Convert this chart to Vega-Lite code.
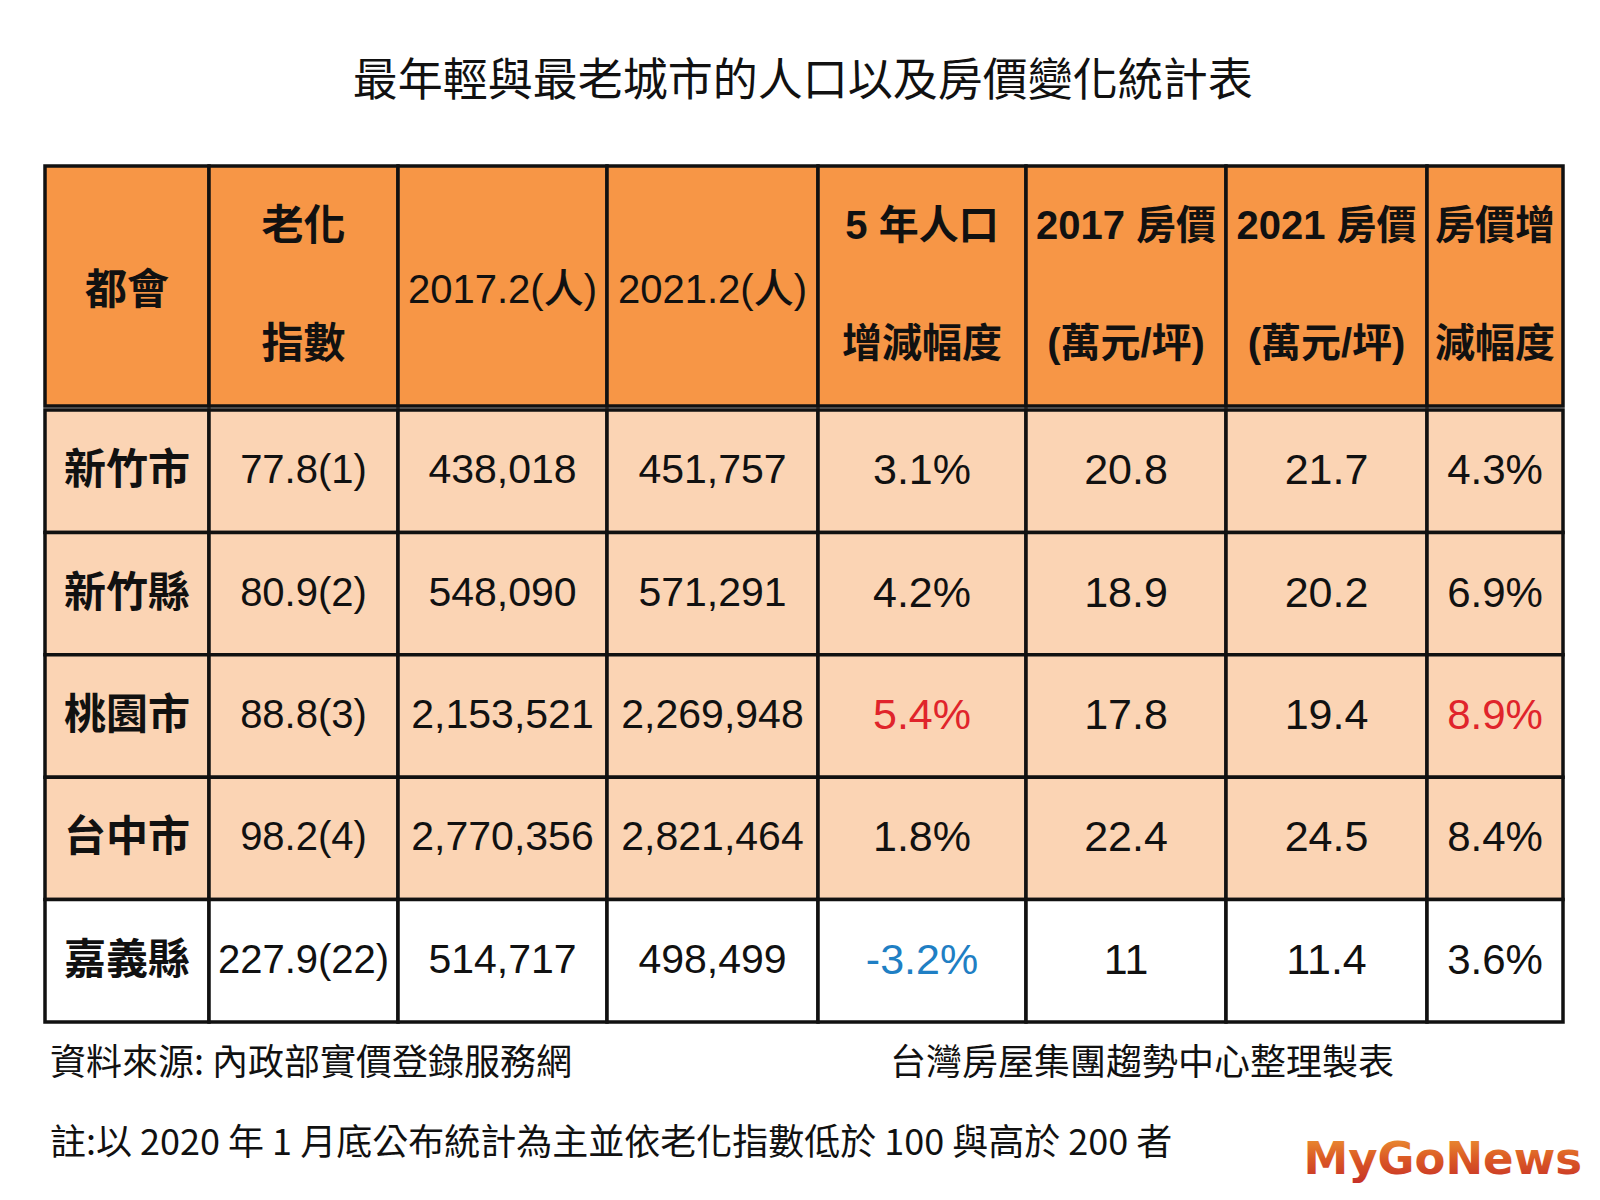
{
  "$schema": "https://vega.github.io/schema/vega-lite/v6.json",
  "padding": {"left": 43, "top": 60, "right": 0, "bottom": 0},
  "background": "#ffffff",
  "title": {"text": "最年輕與最老城市的人口以及房價變化統計表", "font": "Noto Sans CJK TC", "fontSize": 45, "fontWeight": "normal", "color": "#111111", "anchor": "middle", "offset": 59, "dx": -10},
  "datasets": {
    "rows": [
      {"city": "新竹市", "aging": "77.8(1)", "pop2017": 438018, "pop2021": 451757, "popChange": 0.031, "price2017": 20.8, "price2021": 21.7, "priceChange": 0.043},
      {"city": "新竹縣", "aging": "80.9(2)", "pop2017": 548090, "pop2021": 571291, "popChange": 0.042, "price2017": 18.9, "price2021": 20.2, "priceChange": 0.069},
      {"city": "桃園市", "aging": "88.8(3)", "pop2017": 2153521, "pop2021": 2269948, "popChange": 0.054, "price2017": 17.8, "price2021": 19.4, "priceChange": 0.089},
      {"city": "台中市", "aging": "98.2(4)", "pop2017": 2770356, "pop2021": 2821464, "popChange": 0.018, "price2017": 22.4, "price2021": 24.5, "priceChange": 0.084},
      {"city": "嘉義縣", "aging": "227.9(22)", "pop2017": 514717, "pop2021": 498499, "popChange": -0.032, "price2017": 11, "price2021": 11.4, "priceChange": 0.036}
    ],
    "header": [
      {"key": "city", "label": "都會"},
      {"key": "aging", "label": "老化\n指數"},
      {"key": "pop2017", "label": "2017.2(人)"},
      {"key": "pop2021", "label": "2021.2(人)"},
      {"key": "popChange", "label": "5 年人口\n增減幅度"},
      {"key": "price2017", "label": "2017 房價\n(萬元/坪)"},
      {"key": "price2021", "label": "2021 房價\n(萬元/坪)"},
      {"key": "priceChange", "label": "房價增\n減幅度"}
    ],
    "notes": [
      {"part": "source", "line": "1", "text": "資料來源: 內政部實價登錄服務網"},
      {"part": "note", "line": "2", "text": "註:以 2020 年 1 月底公布統計為主並依老化指數低於 100 與高於 200 者"},
      {"part": "maker", "line": "1", "text": "台灣房屋集團趨勢中心整理製表"},
      {"part": "logo", "line": "2", "text": "MyGoNews"}
    ]
  },
  "config": {
    "view": {"stroke": null},
    "locale": {"number": {"decimal": ".", "thousands": ",", "grouping": [3], "currency": ["$", ""], "minus": "-"}}
  },
  "spacing": 0,
  "vconcat": [
    {
      "spacing": 0,
      "bounds": "flush",
      "hconcat": [
        {"width": 164, "height": 240, "data": {"name": "header"}, "transform": [{"filter": "datum.key === 'city'"}],
         "layer": [
          {"mark": {"type": "rect", "fill": "#F79646", "stroke": "#111111", "strokeWidth": 3.5}, "encoding": {}},
          {"mark": {"type": "text", "font": "Liberation Sans, Noto Sans CJK TC", "fontSize": 42, "fontWeight": "bold", "lineBreak": "\n", "lineHeight": 118, "dy": 5, "color": "#111111"}, "encoding": {"text": {"field": "label", "type": "nominal"}}}
         ]},
        {"width": 189, "height": 240, "data": {"name": "header"}, "transform": [{"filter": "datum.key === 'aging'"}],
         "layer": [
          {"mark": {"type": "rect", "fill": "#F79646", "stroke": "#111111", "strokeWidth": 3.5}, "encoding": {}},
          {"mark": {"type": "text", "font": "Liberation Sans, Noto Sans CJK TC", "fontSize": 42, "fontWeight": "bold", "lineBreak": "\n", "lineHeight": 118, "dy": -59, "color": "#111111"}, "encoding": {"text": {"field": "label", "type": "nominal"}}}
         ]},
        {"width": 209, "height": 240, "data": {"name": "header"}, "transform": [{"filter": "datum.key === 'pop2017'"}],
         "layer": [
          {"mark": {"type": "rect", "fill": "#F79646", "stroke": "#111111", "strokeWidth": 3.5}, "encoding": {}},
          {"mark": {"type": "text", "font": "Liberation Sans, Noto Sans CJK TC", "fontSize": 40, "fontWeight": 500, "lineBreak": "\n", "lineHeight": 118, "dy": 5, "color": "#111111"}, "encoding": {"text": {"field": "label", "type": "nominal"}}}
         ]},
        {"width": 211, "height": 240, "data": {"name": "header"}, "transform": [{"filter": "datum.key === 'pop2021'"}],
         "layer": [
          {"mark": {"type": "rect", "fill": "#F79646", "stroke": "#111111", "strokeWidth": 3.5}, "encoding": {}},
          {"mark": {"type": "text", "font": "Liberation Sans, Noto Sans CJK TC", "fontSize": 40, "fontWeight": 500, "lineBreak": "\n", "lineHeight": 118, "dy": 5, "color": "#111111"}, "encoding": {"text": {"field": "label", "type": "nominal"}}}
         ]},
        {"width": 208, "height": 240, "data": {"name": "header"}, "transform": [{"filter": "datum.key === 'popChange'"}],
         "layer": [
          {"mark": {"type": "rect", "fill": "#F79646", "stroke": "#111111", "strokeWidth": 3.5}, "encoding": {}},
          {"mark": {"type": "text", "font": "Liberation Sans, Noto Sans CJK TC", "fontSize": 40, "fontWeight": "bold", "lineBreak": "\n", "lineHeight": 118, "dy": -59, "color": "#111111"}, "encoding": {"text": {"field": "label", "type": "nominal"}}}
         ]},
        {"width": 200, "height": 240, "data": {"name": "header"}, "transform": [{"filter": "datum.key === 'price2017'"}],
         "layer": [
          {"mark": {"type": "rect", "fill": "#F79646", "stroke": "#111111", "strokeWidth": 3.5}, "encoding": {}},
          {"mark": {"type": "text", "font": "Liberation Sans, Noto Sans CJK TC", "fontSize": 40, "fontWeight": "bold", "lineBreak": "\n", "lineHeight": 118, "dy": -59, "color": "#111111"}, "encoding": {"text": {"field": "label", "type": "nominal"}}}
         ]},
        {"width": 201, "height": 240, "data": {"name": "header"}, "transform": [{"filter": "datum.key === 'price2021'"}],
         "layer": [
          {"mark": {"type": "rect", "fill": "#F79646", "stroke": "#111111", "strokeWidth": 3.5}, "encoding": {}},
          {"mark": {"type": "text", "font": "Liberation Sans, Noto Sans CJK TC", "fontSize": 40, "fontWeight": "bold", "lineBreak": "\n", "lineHeight": 118, "dy": -59, "color": "#111111"}, "encoding": {"text": {"field": "label", "type": "nominal"}}}
         ]},
        {"width": 136, "height": 240, "data": {"name": "header"}, "transform": [{"filter": "datum.key === 'priceChange'"}],
         "layer": [
          {"mark": {"type": "rect", "fill": "#F79646", "stroke": "#111111", "strokeWidth": 3.5}, "encoding": {}},
          {"mark": {"type": "text", "font": "Liberation Sans, Noto Sans CJK TC", "fontSize": 40, "fontWeight": "bold", "lineBreak": "\n", "lineHeight": 118, "dy": -59, "color": "#111111"}, "encoding": {"text": {"field": "label", "type": "nominal"}}}
         ]}
      ]
    },
    {
      "spacing": 0,
      "bounds": "flush",
      "hconcat": [
        {"width": 164, "height": 612, "data": {"name": "rows"},
         "encoding": {"y": {"field": "city", "type": "nominal", "sort": null, "axis": null, "scale": {"paddingInner": 0, "paddingOuter": 0}}},
         "layer": [
          {"mark": {"type": "rect", "stroke": "#111111", "strokeWidth": 3.5}, "encoding": {"fill": {"condition": {"test": "datum.city === '嘉義縣'", "value": "#ffffff"}, "value": "#FBD4B4"}}},
          {"mark": {"type": "text", "font": "Noto Sans CJK TC", "fontSize": 42, "fontWeight": "bold", "color": "#111111"}, "encoding": {"text": {"field": "city", "type": "nominal"}}}
         ]},
        {"width": 189, "height": 612, "data": {"name": "rows"},
         "encoding": {"y": {"field": "city", "type": "nominal", "sort": null, "axis": null, "scale": {"paddingInner": 0, "paddingOuter": 0}}},
         "layer": [
          {"mark": {"type": "rect", "stroke": "#111111", "strokeWidth": 3.5}, "encoding": {"fill": {"condition": {"test": "datum.city === '嘉義縣'", "value": "#ffffff"}, "value": "#FBD4B4"}}},
          {"mark": {"type": "text", "font": "Liberation Sans", "fontSize": 40, "color": "#111111"}, "encoding": {"text": {"field": "aging", "type": "nominal"}}}
         ]},
        {"width": 209, "height": 612, "data": {"name": "rows"},
         "encoding": {"y": {"field": "city", "type": "nominal", "sort": null, "axis": null, "scale": {"paddingInner": 0, "paddingOuter": 0}}},
         "layer": [
          {"mark": {"type": "rect", "stroke": "#111111", "strokeWidth": 3.5}, "encoding": {"fill": {"condition": {"test": "datum.city === '嘉義縣'", "value": "#ffffff"}, "value": "#FBD4B4"}}},
          {"mark": {"type": "text", "font": "Liberation Sans", "fontSize": 41, "color": "#111111"}, "encoding": {"text": {"field": "pop2017", "type": "quantitative", "format": ","}}}
         ]},
        {"width": 211, "height": 612, "data": {"name": "rows"},
         "encoding": {"y": {"field": "city", "type": "nominal", "sort": null, "axis": null, "scale": {"paddingInner": 0, "paddingOuter": 0}}},
         "layer": [
          {"mark": {"type": "rect", "stroke": "#111111", "strokeWidth": 3.5}, "encoding": {"fill": {"condition": {"test": "datum.city === '嘉義縣'", "value": "#ffffff"}, "value": "#FBD4B4"}}},
          {"mark": {"type": "text", "font": "Liberation Sans", "fontSize": 41, "color": "#111111"}, "encoding": {"text": {"field": "pop2021", "type": "quantitative", "format": ","}}}
         ]},
        {"width": 208, "height": 612, "data": {"name": "rows"},
         "encoding": {"y": {"field": "city", "type": "nominal", "sort": null, "axis": null, "scale": {"paddingInner": 0, "paddingOuter": 0}}},
         "layer": [
          {"mark": {"type": "rect", "stroke": "#111111", "strokeWidth": 3.5}, "encoding": {"fill": {"condition": {"test": "datum.city === '嘉義縣'", "value": "#ffffff"}, "value": "#FBD4B4"}}},
          {"mark": {"type": "text", "font": "Liberation Sans", "fontSize": 43}, "encoding": {
            "text": {"field": "popChange", "type": "quantitative", "format": ".1%"},
            "color": {"condition": [{"test": "datum.popChange < 0", "value": "#1F7FC4"}, {"test": "datum.popChange >= 0.05", "value": "#E0242B"}], "value": "#111111"}}}
         ]},
        {"width": 200, "height": 612, "data": {"name": "rows"},
         "encoding": {"y": {"field": "city", "type": "nominal", "sort": null, "axis": null, "scale": {"paddingInner": 0, "paddingOuter": 0}}},
         "layer": [
          {"mark": {"type": "rect", "stroke": "#111111", "strokeWidth": 3.5}, "encoding": {"fill": {"condition": {"test": "datum.city === '嘉義縣'", "value": "#ffffff"}, "value": "#FBD4B4"}}},
          {"mark": {"type": "text", "font": "Liberation Sans", "fontSize": 43, "color": "#111111"}, "encoding": {"text": {"field": "price2017", "type": "quantitative"}}}
         ]},
        {"width": 201, "height": 612, "data": {"name": "rows"},
         "encoding": {"y": {"field": "city", "type": "nominal", "sort": null, "axis": null, "scale": {"paddingInner": 0, "paddingOuter": 0}}},
         "layer": [
          {"mark": {"type": "rect", "stroke": "#111111", "strokeWidth": 3.5}, "encoding": {"fill": {"condition": {"test": "datum.city === '嘉義縣'", "value": "#ffffff"}, "value": "#FBD4B4"}}},
          {"mark": {"type": "text", "font": "Liberation Sans", "fontSize": 43, "color": "#111111"}, "encoding": {"text": {"field": "price2021", "type": "quantitative"}}}
         ]},
        {"width": 136, "height": 612, "data": {"name": "rows"},
         "encoding": {"y": {"field": "city", "type": "nominal", "sort": null, "axis": null, "scale": {"paddingInner": 0, "paddingOuter": 0}}},
         "layer": [
          {"mark": {"type": "rect", "stroke": "#111111", "strokeWidth": 3.5}, "encoding": {"fill": {"condition": {"test": "datum.city === '嘉義縣'", "value": "#ffffff"}, "value": "#FBD4B4"}}},
          {"mark": {"type": "text", "font": "Liberation Sans", "fontSize": 42}, "encoding": {
            "text": {"field": "priceChange", "type": "quantitative", "format": ".1%"},
            "color": {"condition": {"test": "datum.priceChange >= 0.089", "value": "#E0242B"}, "value": "#111111"}}}
         ]}
      ]
    },
    {
      "spacing": 0,
      "bounds": "flush",
      "hconcat": [
        {"width": 845, "height": 160, "data": {"name": "notes"}, "transform": [{"filter": "datum.part === 'source' || datum.part === 'note'"}],
         "mark": {"type": "text", "align": "left", "dx": 5, "font": "Noto Sans CJK TC", "fontSize": 36, "color": "#111111"},
         "encoding": {
           "x": {"datum": 0, "type": "quantitative", "scale": {"domain": [0, 1]}, "axis": null},
           "y": {"field": "line", "type": "ordinal", "axis": null, "scale": {"paddingInner": 0, "paddingOuter": 0.08}},
           "text": {"field": "text", "type": "nominal"}}},
        {"width": 692, "height": 160, "data": {"name": "notes"}, "transform": [{"filter": "datum.part === 'maker' || datum.part === 'logo'"}],
         "encoding": {"y": {"field": "line", "type": "ordinal", "axis": null, "scale": {"paddingInner": 0, "paddingOuter": 0.08}}},
         "layer": [
          {"transform": [{"filter": "datum.part === 'maker'"}],
           "mark": {"type": "text", "align": "left", "font": "Noto Sans CJK TC", "fontSize": 36, "color": "#111111"},
           "encoding": {"x": {"datum": 0, "type": "quantitative", "scale": {"domain": [0, 1]}, "axis": null}, "text": {"field": "text", "type": "nominal"}}},
          {"transform": [{"filter": "datum.part === 'logo'"}],
           "mark": {"type": "text", "align": "right", "dy": 16, "font": "DejaVu Sans", "fontWeight": "bold", "fontSize": 45,
             "fill": {"gradient": "linear", "x1": 0, "y1": 0, "x2": 0, "y2": 1, "stops": [{"offset": 0, "color": "#EE9A35"}, {"offset": 0.5, "color": "#DB5A25"}, {"offset": 1, "color": "#C42D28"}]}},
           "encoding": {"x": {"datum": 1, "type": "quantitative", "scale": {"domain": [0, 1]}, "axis": null}, "text": {"field": "text", "type": "nominal"}}}
         ]}
      ]
    }
  ]
}
